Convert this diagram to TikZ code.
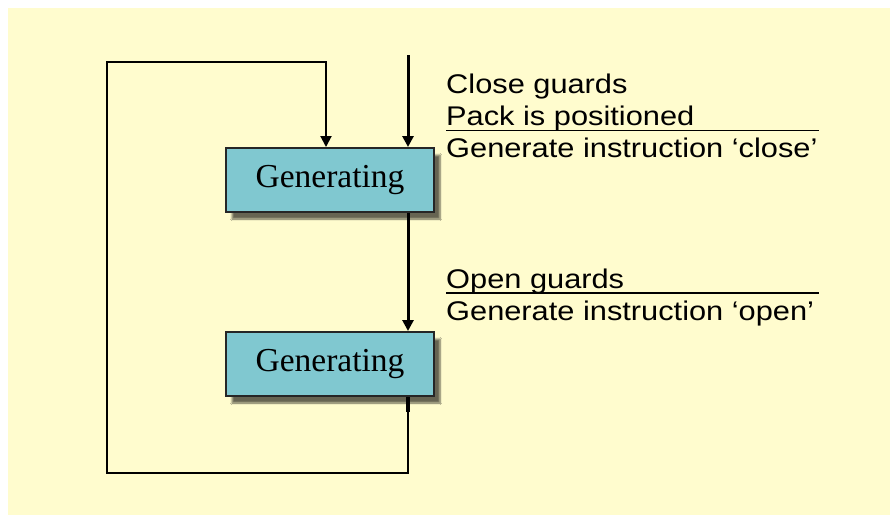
\documentclass[tikz,border=0pt]{standalone}
\usepackage{fontspec}
\setmainfont{Liberation Serif}
\newfontfamily\guardfont[FakeStretch=1.14]{Liberation Sans}
\definecolor{PanelYellow}{RGB}{255,252,206}
\definecolor{StateTeal}{RGB}{128,200,208}
\usetikzlibrary{arrows.meta, positioning, shadows.blur}

\begin{document}
\begin{tikzpicture}[x=1pt, y=-1pt,
	state/.style={draw=black!85, line width=2pt, fill=StateTeal, minimum width=208pt, minimum height=64pt, inner sep=0pt, font=\fontsize{33.5}{40}\selectfont, blur shadow={shadow xshift=6pt, shadow yshift=-7pt, shadow blur steps=6, shadow opacity=60}},
	guard/.style={anchor=base west, inner sep=0pt, text=black, font=\guardfont\fontsize{27}{32}\selectfont},
	flow/.style={line width=3pt, -{Triangle[length=11pt, width=11pt]}},
	backline/.style={line width=2pt, -{Triangle[length=11pt, width=11pt]}}]
	\useasboundingbox (0,0) rectangle (890,515);
	\fill[PanelYellow] (8,8) rectangle (890,515);
	% states
	\node[state] (genclose) at (330,180) {Generating};
	\node[state] (genopen) at (330,364) {Generating};
	\coordinate (feed) at (408,55);
	\coordinate (tail) at (408,412);
	\coordinate (corner) at (107,473);
	\coordinate (ret) at (326,62);
	% transitions
	\draw[flow] (feed) -- (feed |- genclose.north);
	\draw[flow] (genclose.south -| feed) -- (genopen.north -| feed);
	\draw[line width=4.5pt] (genopen.south -| feed) -- (tail);
	\draw[backline] (tail) |- (corner) |- (ret) -- (ret |- genclose.north);
	% guards and actions
	\node[guard] (closeg) at (446,93) {Close guards};
	\node[guard] (packpos) at (446,125) {Pack is positioned};
	\node[guard] (closeinstr) at (446,157) {Generate instruction ‘close’};
	\draw[line width=1.6pt] (446,130.5) -- (819,130.5);
	\node[guard] (openg) at (446,288) {Open guards};
	\node[guard] (openinstr) at (446,320) {Generate instruction ‘open’};
	\draw[line width=1.6pt] (446,293) -- (819,293);
\end{tikzpicture}
\end{document}
